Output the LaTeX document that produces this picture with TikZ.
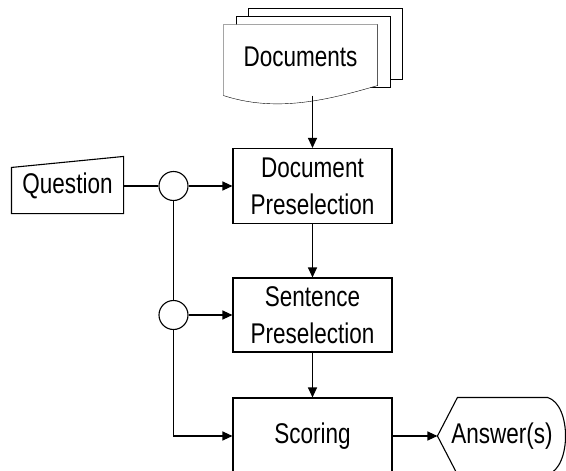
\documentclass[tikz,border=0pt]{standalone}
\usepackage{fontspec}
\setmainfont{Liberation Sans}[FakeStretch=0.79]
\usetikzlibrary{positioning,arrows.meta,backgrounds}

\begin{document}
\begin{tikzpicture}[x=1pt, y=-1pt, line width=1.1pt,
                    every node/.style={font=\fontsize{28.5}{37}\selectfont, inner sep=0pt, align=center},
                    stepbox/.style={rectangle, draw=black, minimum width=159pt},
                    junction/.style={circle, draw=black, minimum size=29pt},
                    flow/.style={-{Triangle[length=10pt, width=9pt]}},]
    \useasboundingbox (0,0) rectangle (566,471);
    \clip (0,0) rectangle (566,471);
    % nodes
    \node      (docs)  at (300.5,60)    [minimum width=153pt, minimum height=70pt]  {\raisebox{6pt}{Documents}};
    \node      (quest) at (67.5,186)    [minimum width=111pt, minimum height=54pt]  {\raisebox{-3pt}{Question}};
    \node[junction]  (jq)  at (173.5,186)  {};
    \node[junction]  (js)  at (173.5,315)  {};
    \node[stepbox]   (docsel)  at (312.5,186)  [minimum height=75pt]  {Document\\Preselection};
    \node[stepbox]   (sentsel) at (312.5,315)  [minimum height=74pt]  {Sentence\\Preselection};
    \node[stepbox]   (score)   at (312.5,436)  [minimum height=76pt]  {Scoring};
    \node      (answer) at (502,436)    [minimum width=128pt, minimum height=76pt]  {Answer(s)};
    % document stack, kept behind the label
    \begin{scope}[on background layer]
        \draw[fill=white] ([shift={(25,-16)}]docs.north west) rectangle ([shift={(25,-16)}]docs.south east);
        \draw[fill=white] ([shift={(12.5,-8)}]docs.north west) rectangle ([shift={(12.5,-8)}]docs.south east);
        \draw[fill=white] (docs.north west) -- (docs.north east) -- ([yshift=10pt]docs.south east)
            .. controls ([shift={(-51,5)}]docs.south east) and ([shift={(-102,17)}]docs.south east) .. (docs.south west) -- cycle;
    \end{scope}
    % manual input and display outlines
    \draw (quest.south west) -- (quest.south east) -- ([yshift=2pt]quest.north east) -- ([yshift=-9pt]quest.north west) -- cycle;
    \draw (answer.west) -- ([xshift=20pt]answer.north west) -- ([xshift=-19pt]answer.north east)
        .. controls ([shift={(5,7)}]answer.north east) and ([shift={(5,-7)}]answer.south east) .. ([xshift=-19pt]answer.south east)
        -- ([xshift=20pt]answer.south west) -- cycle;
    % lines
    \draw[flow] (docsel.north |- docs.south) -- (docsel.north);
    \draw (quest.east) -- (jq.west);
    \draw[flow] (jq.east) -- (docsel.west);
    \draw (jq.south) -- (js.north);
    \draw[flow] (js.east) -- (sentsel.west);
    \draw[flow] (js.south) |- (score.west);
    \draw[flow] (docsel.south) -- (sentsel.north);
    \draw[flow] (sentsel.south) -- (score.north);
    \draw[flow] (score.east) -- (answer.west);
\end{tikzpicture}
\end{document}
